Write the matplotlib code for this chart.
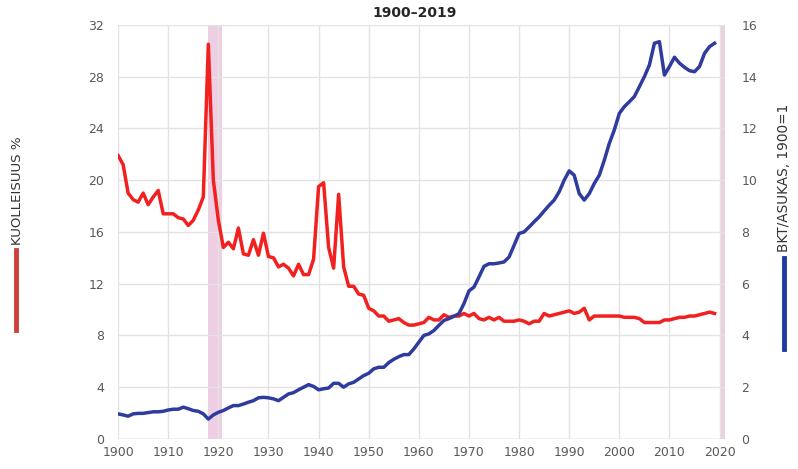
import matplotlib
matplotlib.use("Agg")
import matplotlib.pyplot as plt
import numpy as np

years = list(range(1900, 2020))

mortality = [
    21.9, 21.2, 19.0, 18.5, 18.3, 19.0, 18.1, 18.7, 19.2, 17.4,
    17.4, 17.4, 17.1, 17.0, 16.5, 16.9, 17.7, 18.7, 30.5, 20.0,
    16.9, 14.8, 15.2, 14.7, 16.3, 14.3, 14.2, 15.4, 14.2, 15.9,
    14.1, 14.0, 13.3, 13.5, 13.2, 12.6, 13.5, 12.7, 12.7, 13.9,
    19.5, 19.8, 14.8, 13.2, 18.9, 13.3, 11.8, 11.8, 11.2, 11.1,
    10.1, 9.9, 9.5, 9.5, 9.1, 9.2, 9.3, 9.0, 8.8, 8.8,
    8.9, 9.0, 9.4, 9.2, 9.2, 9.6, 9.4, 9.5, 9.5, 9.7,
    9.5, 9.7, 9.3, 9.2, 9.4, 9.2, 9.4, 9.1, 9.1, 9.1,
    9.2, 9.1, 8.9, 9.1, 9.1, 9.7, 9.5, 9.6, 9.7, 9.8,
    9.9, 9.7, 9.8, 10.1, 9.2, 9.5, 9.5, 9.5, 9.5, 9.5,
    9.5, 9.4, 9.4, 9.4, 9.3, 9.0, 9.0, 9.0, 9.0, 9.2,
    9.2, 9.3, 9.4, 9.4, 9.5, 9.5, 9.6, 9.7, 9.8, 9.7,
]

gdp_per_capita = [
    0.97, 0.93, 0.88, 0.97, 0.99, 0.99, 1.02, 1.05, 1.05, 1.07,
    1.12, 1.15, 1.15, 1.23, 1.17, 1.10, 1.07, 0.97, 0.77, 0.93,
    1.03, 1.10, 1.20, 1.29, 1.29, 1.35, 1.42, 1.48, 1.59, 1.61,
    1.59, 1.55, 1.48, 1.61, 1.74, 1.79, 1.90, 2.00, 2.10, 2.03,
    1.90, 1.94, 1.97, 2.15, 2.15, 2.00, 2.13, 2.19, 2.32, 2.45,
    2.54, 2.71, 2.77, 2.77, 2.95, 3.08, 3.18, 3.26, 3.26, 3.48,
    3.74, 4.00, 4.06, 4.19, 4.39, 4.58, 4.65, 4.74, 4.84, 5.23,
    5.72, 5.87, 6.26, 6.67, 6.77, 6.77, 6.80, 6.84, 7.03, 7.48,
    7.94, 8.00, 8.19, 8.39, 8.58, 8.81, 9.03, 9.23, 9.55, 10.00,
    10.36, 10.19, 9.48, 9.23, 9.48, 9.87, 10.19, 10.77, 11.42, 11.94,
    12.58, 12.84, 13.03, 13.23, 13.61, 14.00, 14.45, 15.29, 15.35, 14.06,
    14.39, 14.75, 14.52, 14.36, 14.23, 14.19, 14.39, 14.90, 15.16, 15.29,
]

highlight_spans = [(1918, 1920.8), (2020, 2021)]
title = "1900\u20132019"
left_label = "KUOLLEISUUS %"
right_label = "BKT/ASUKAS, 1900=1"

red = "#f0211f"
blue = "#2f3c9e"
tick_color = "#595959"

fig = plt.figure(figsize=(7.98, 4.69), dpi=100)
ax = fig.add_axes([0.148, 0.064, 0.760, 0.883])
ax2 = ax.twinx()

for a, b in highlight_spans:
    ax.axvspan(a, b, color="#ebc6df", alpha=0.85, lw=0, zorder=0)

ax.plot(years, mortality, color=red, lw=2.5, zorder=3, solid_joinstyle="round")
ax2.plot(years, gdp_per_capita, color=blue, lw=2.5, zorder=3, solid_joinstyle="round")

ax.set_xlim(1900, 2021)
ax.set_ylim(0, 32)
ax2.set_ylim(0, 16)
ax.set_xticks(range(1900, 2021, 10))
ax.set_yticks(range(0, 33, 4))
ax2.set_yticks(range(0, 17, 2))
ax.grid(True, color="#e3e3e3", lw=1.0)
ax.set_axisbelow(True)
for a in (ax, ax2):
    for s in a.spines.values():
        s.set_visible(False)
    a.tick_params(length=0, labelsize=9, colors=tick_color)
ax.tick_params(axis="y", pad=10)
ax.tick_params(axis="x", pad=5)
ax2.tick_params(axis="y", pad=12)
ax.axhline(0, color="#d9d9d9", lw=1, zorder=1)

fig.text(0.52, 0.972, title, ha="center", va="center", fontsize=10, fontweight="bold", color="#262626")

# left axis label with red key line
fig.text(0.022, 0.478, left_label, rotation=90, ha="center", va="bottom", fontsize=9.6, color="#333333")
fig.add_artist(plt.Line2D([0.020, 0.020], [0.297, 0.467], color="#d0403a", lw=3.5, transform=fig.transFigure))
# right axis label with blue key line
fig.text(0.982, 0.462, right_label, rotation=90, ha="center", va="bottom", fontsize=9.8, color="#333333")
fig.add_artist(plt.Line2D([0.982, 0.982], [0.255, 0.45], color="#1f3c9e", lw=3.5, transform=fig.transFigure))

fig.savefig("out.png", dpi=100)
